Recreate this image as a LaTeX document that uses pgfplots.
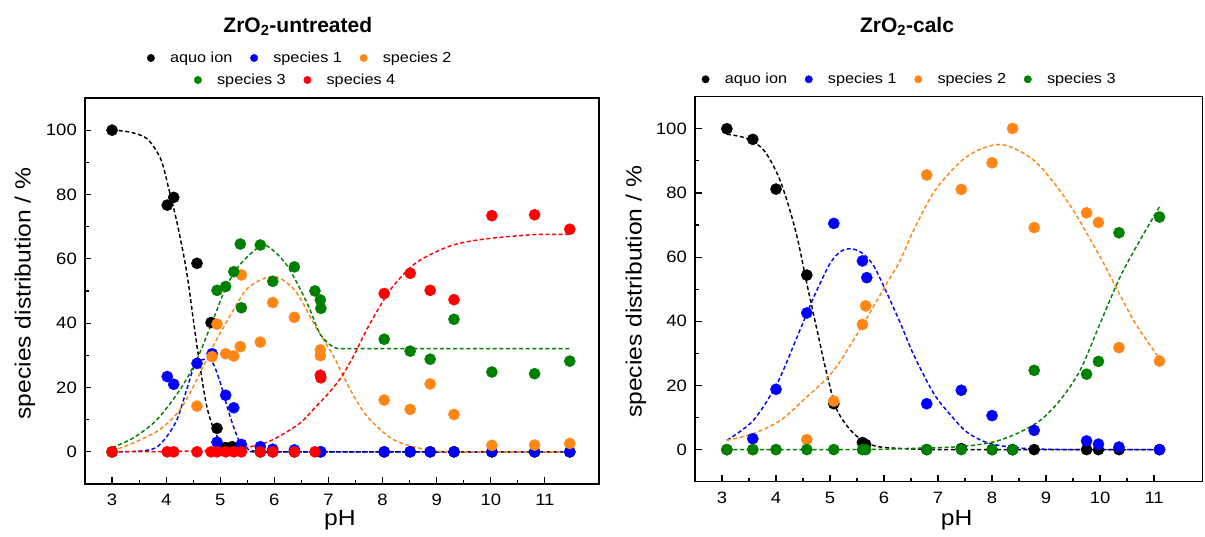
\documentclass[border=0pt]{standalone}
\usepackage{fontspec}
\setmainfont{Liberation Sans}
\newfontfamily\widefont{Liberation Sans}[FakeStretch=1.12]
\usepackage{pgfplots}
\pgfplotsset{compat=1.18}
\definecolor{cblue}{RGB}{0,0,255}
\definecolor{corange}{RGB}{255,133,20}
\definecolor{cgreen}{RGB}{0,128,0}
\definecolor{cred}{RGB}{255,0,0}
\pgfplotsset{
  base/.style={
    scale only axis, anchor=south west,
    xmin=2.5, ymin=-10, ymax=110,
    xtick={3,4,...,11}, ytick={0,20,...,100},
    minor x tick num=1, minor y tick num=1,
    tick align=inside, tick pos=left,
    major tick length=6.5pt, minor tick length=4pt,
    every tick/.style={black, line width=1.2pt},
    axis line style={line width=1.4pt},
    /pgf/number format/assume math mode=true,
    tick label style={font=\widefont\fontsize{16.5}{19}\selectfont},
    yticklabel style={inner xsep=0pt, xshift=-8pt},
    xticklabel style={inner ysep=0pt, yshift=-10pt},
    label style={font=\widefont\fontsize{22}{26}\selectfont},
    xlabel={pH}, ylabel={species distribution / \%},
    title style={font=\bfseries\fontsize{21}{25}\selectfont, anchor=center},
    legend style={draw=none, fill=none, font=\widefont\fontsize{14.5}{18}\selectfont,
      inner sep=0pt, anchor=center, nodes={inner sep=0pt},
      /tikz/every odd column/.style={column sep=15.5pt},
      /tikz/every even column/.style={column sep=18pt}},
    legend image code/.code={\draw[#1, mark size=3.7pt] plot coordinates {(0pt,0pt)};},
    clip=false,
  },
  fit/.style={smooth, no markers, line width=1.45pt, dash pattern=on 4pt off 2.6pt, forget plot},
  pts/.style={only marks, mark=*, mark size=5.6pt},
}
\begin{document}
\begin{tikzpicture}
% ---------------- left panel ----------------
\begin{axis}[base, at={(85pt,53pt)}, width=514pt, height=386pt, xmax=12,
  title={ZrO\textsubscript{2}-untreated},
  title style={at={(axis description cs:0.414,1.171)}},
  xlabel style={at={(axis description cs:0.496,-0.093)}, anchor=center},
  ylabel style={at={(axis description cs:-0.1167,0.4935)}, anchor=center},
  legend columns=3,
  legend style={at={(axis description cs:0.417,1.1036)}},
]
\addplot[fit, black] coordinates {(3.0,100)(3.33,99.4)(3.65,97.3)(3.9,91)(4.05,81.7)(4.2,71.3)(4.38,55.8)(4.57,32.9)(4.75,14.2)(4.94,4.9)(5.18,1.2)(5.6,0)(6.5,0)(8,0)(10,0)(11.46,0)};
\addplot[fit, cblue] coordinates {(3.0,0)(3.5,0.2)(3.8,1.2)(4.0,4.5)(4.2,10)(4.38,19.4)(4.53,27)(4.69,28.7)(4.85,28)(5.0,21.5)(5.18,11.1)(5.37,2.8)(5.6,0.3)(6,0)(8,0)(11.46,0)};
\addplot[fit, corange] coordinates {(3.0,0.3)(3.4,2.8)(3.89,7)(4.26,13.2)(4.57,22.5)(4.87,32.9)(5.18,42.2)(5.49,50.6)(5.86,54.2)(6.1,54)(6.41,49.5)(6.79,38.1)(7.09,29.8)(7.4,19.4)(7.71,11.1)(8.2,3.8)(8.82,0.6)(9.3,0)(10,0)(11.46,0)};
\addplot[fit, cgreen] coordinates {(3.0,1.3)(3.4,4.4)(3.83,10)(4.26,19.4)(4.57,28.8)(4.87,41.2)(5.12,51.6)(5.37,58.3)(5.74,64)(5.92,63.4)(6.24,57.8)(6.6,46.4)(6.85,36.5)(7.09,32.6)(7.28,32.1)(8,32.1)(9,32.1)(10,32.1)(11.46,32.1)};
\addplot[fit, cred] coordinates {(3.0,0)(4.0,0.1)(4.5,0.3)(5.0,0.6)(5.37,1.0)(5.8,2.6)(6.1,4.9)(6.48,9.0)(6.72,13.2)(7.0,18.2)(7.25,23.5)(7.5,31)(7.71,38.1)(7.96,45.5)(8.2,51.6)(8.63,58.9)(9.25,64.0)(9.86,66.1)(10.78,67.5)(11.46,67.6)};
\addplot[pts, black] coordinates {(3.00,100)(4.02,76.7)(4.14,79.1)(4.57,58.6)(4.83,40.2)(4.94,7.3)(5.10,1.3)(5.22,1.6)(5.35,0.5)(5.74,0)(5.97,0)(6.37,0)(6.85,0)(8.03,0)(8.51,0)(8.88,0)(9.32,0)(10.02,0)(10.81,0)(11.46,0)};
\addlegendentry{aquo ion}
\addplot[pts, cblue] coordinates {(3.00,0)(4.02,23.4)(4.14,21.0)(4.57,27.5)(4.85,30.5)(4.94,3.0)(5.10,17.6)(5.25,13.7)(5.39,2.3)(5.74,1.6)(5.97,0.8)(6.37,0.6)(6.86,0)(8.03,0)(8.51,0)(8.88,0)(9.32,0)(10.02,0)(10.81,0)(11.46,0)};
\addlegendentry{species 1}
\addplot[pts, corange] coordinates {(3.00,0)(4.57,14.2)(4.85,29.6)(4.94,39.7)(5.10,30.5)(5.25,29.8)(5.37,32.7)(5.39,55.0)(5.74,34.1)(5.97,46.4)(6.37,41.8)(6.85,31.7)(6.85,29.9)(8.03,16.1)(8.51,13.2)(8.88,21.1)(9.32,11.6)(10.02,2.0)(10.81,2.1)(11.46,2.6)};
\addlegendentry{species 2}
\addplot[pts, cgreen, forget plot] coordinates {(3.00,0)(4.94,50.2)(5.10,51.4)(5.25,56.0)(5.37,64.6)(5.39,44.8)(5.74,64.3)(5.97,53.0)(6.37,57.5)(6.75,50.0)(6.85,47.2)(6.86,44.6)(8.03,35.0)(8.51,31.3)(8.88,28.8)(9.32,41.2)(10.02,24.8)(10.81,24.3)(11.46,28.2)};
\addplot[pts, cred, forget plot] coordinates {(3.00,0)(4.02,0)(4.14,0)(4.57,0)(4.83,0)(4.94,0)(5.10,0)(5.25,0)(5.39,0)(5.74,0)(5.97,0)(6.37,0)(6.75,0)(6.85,23.8)(6.86,23.0)(8.03,49.2)(8.51,55.5)(8.88,50.2)(9.32,47.3)(10.02,73.4)(10.81,73.7)(11.46,69.2)};
\end{axis}
% second legend row of the left panel
\begin{axis}[base, at={(85pt,53pt)}, width=514pt, height=386pt, hide axis,
  xmin=0, xmax=1, ymin=0, ymax=1,
  legend columns=2,
  legend style={at={(axis description cs:0.408,1.0466)}},
]
\addlegendimage{pts, cgreen}
\addlegendentry{species 3}
\addlegendimage{pts, cred}
\addlegendentry{species 4}
\end{axis}
% ---------------- right panel ----------------
\begin{axis}[base, at={(695pt,55.3pt)}, width=507.7pt, height=385pt, xmax=11.9,
  title={ZrO\textsubscript{2}-calc},
  title style={at={(axis description cs:0.4176,1.1668)}},
  xlabel style={at={(axis description cs:0.5155,-0.0995)}, anchor=center},
  ylabel style={at={(axis description cs:-0.1162,0.4927)}, anchor=center},
  legend columns=4,
  legend style={at={(axis description cs:0.421,1.0452)}},
]
\addplot[fit, black] coordinates {(3.09,98.3)(3.46,97.0)(3.77,93.4)(4.02,86.1)(4.2,77.8)(4.39,66.3)(4.57,51.8)(4.76,37.2)(4.94,23.7)(5.13,12.3)(5.44,5.0)(5.8,1.3)(6.24,0.4)(7,0)(8,0)(9,0)(10,0)(11.1,0)};
\addplot[fit, cblue] coordinates {(3.09,2.9)(3.58,9.1)(4.02,20.6)(4.39,35.1)(4.7,47.6)(5.0,58)(5.2,61.8)(5.4,62.6)(5.6,61.2)(5.8,57.5)(6.02,50)(6.3,39.5)(6.55,29.5)(6.92,17.5)(7.22,11)(7.53,5.5)(7.9,2.2)(8.33,0.8)(8.8,0.2)(9.5,0)(10.5,0)(11.1,0)};
\addplot[fit, corange] coordinates {(3.09,2.9)(3.58,5.0)(4.08,9.1)(4.57,16.4)(5.07,24.7)(5.62,39.3)(6.05,51.8)(6.3,59)(6.55,68.4)(6.95,80.9)(7.53,91.3)(8.15,95.1)(8.77,90.2)(9.38,77.8)(10.0,60.1)(10.62,40.3)(11.08,28.9)};
\addplot[fit, cgreen] coordinates {(3.09,0)(4,0)(5,0)(6,0.1)(6.3,0.3)(7,0.6)(7.53,1.1)(8.03,2.4)(8.46,5)(8.89,9.1)(9.26,15.4)(9.63,24.7)(10.0,39.3)(10.37,53.8)(10.74,65.3)(11.1,75.7)};
\addplot[pts, black] coordinates {(3.09,100)(3.57,96.7)(4.00,81.2)(4.57,54.4)(5.07,14.3)(5.60,2.2)(5.66,1.6)(6.79,0)(7.43,0.3)(8.00,0)(8.38,0)(8.78,0)(9.75,0)(9.97,0)(10.35,0)(11.10,0)};
\addlegendentry{aquo ion}
\addplot[pts, cblue] coordinates {(3.09,0)(3.57,3.4)(4.00,18.8)(4.57,42.6)(5.07,70.5)(5.60,58.8)(5.68,53.6)(6.79,14.3)(7.43,18.5)(8.00,10.6)(8.38,0)(8.78,6.0)(9.75,2.7)(9.97,1.7)(10.35,0.8)(11.10,0)};
\addlegendentry{species 1}
\addplot[pts, corange] coordinates {(3.09,0)(3.57,0)(4.00,0)(4.57,3.1)(5.07,15.1)(5.60,39.0)(5.66,44.8)(6.79,85.6)(7.43,81.1)(8.00,89.4)(8.38,100.1)(8.78,69.2)(9.75,73.8)(9.97,70.8)(10.35,31.8)(11.10,27.6)};
\addlegendentry{species 2}
\addplot[pts, cgreen] coordinates {(3.09,0)(3.57,0)(4.00,0)(4.57,0)(5.07,0)(5.60,0)(5.66,0)(6.79,0)(7.43,0)(8.00,0)(8.38,0)(8.78,24.7)(9.75,23.5)(9.97,27.5)(10.35,67.6)(11.10,72.5)};
\addlegendentry{species 3}
\end{axis}
\pgfresetboundingbox
\useasboundingbox (0pt,0pt) rectangle (1205pt,537pt);
\end{tikzpicture}
\end{document}
